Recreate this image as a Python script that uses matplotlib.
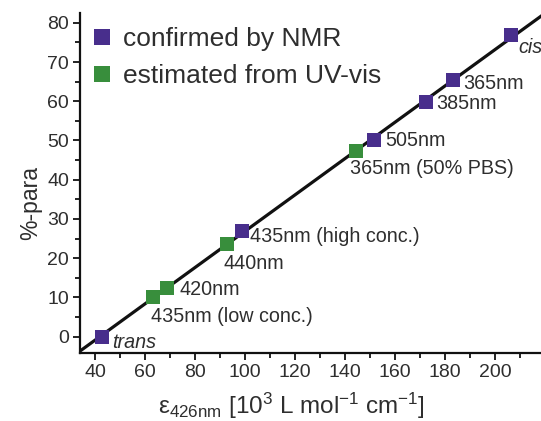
import numpy as np
import matplotlib
matplotlib.use("Agg")
import matplotlib.pyplot as plt

plt.rcParams["font.family"] = ["Liberation Sans", "DejaVu Sans"]
plt.rcParams["mathtext.fontset"] = "custom"
plt.rcParams["mathtext.rm"] = "Liberation Sans"
plt.rcParams["mathtext.it"] = "Liberation Sans:italic"

# points confirmed by NMR
nmr_x = [42.8, 98.6, 151.8, 172.6, 183.1, 206.4]
nmr_y = [0.0, 27.0, 50.1, 59.9, 65.3, 76.8]
nmr_labels = ["trans", "435nm (high conc.)", "505nm", "385nm", "365nm", "cis"]

# points estimated from UV-vis
uv_x = [63.2, 68.6, 92.8, 144.4]
uv_y = [10.0, 12.3, 23.7, 47.4]
uv_labels = ["435nm (low conc.)", "420nm", "440nm", "365nm (50% PBS)"]

# label offsets in pixels (right, down)
nmr_offsets = [(10, 6), (8, 6), (11, 0), (10, 2), (11, 3), (7, 12)]
uv_offsets = [(-2, 19), (13, 1), (-4, 20), (-6, 18)]
ITALIC = {"trans", "cis"}

PURPLE = "#482e8c"
GREEN = "#388e3c"
TXT = "#2e2e2e"

XLIM = (34, 218)
YLIM = (-4.2, 82.5)

fig = plt.figure(figsize=(5.41, 4.21), dpi=100)
ax = fig.add_axes([0.148, 0.1615, 0.85, 0.8075])

# linear fit through all points
all_x = np.array(nmr_x + uv_x)
all_y = np.array(nmr_y + uv_y)
m, b = np.polyfit(all_x, all_y, 1)
x_end = (YLIM[1] - b) / m
ax.plot([XLIM[0], x_end], [m * XLIM[0] + b, YLIM[1]], color="#111111",
        lw=2.3, solid_capstyle="butt", clip_on=False, zorder=2)

ax.plot(nmr_x, nmr_y, "s", color=PURPLE, ms=9.7, mew=0, zorder=3,
        label="confirmed by NMR")
ax.plot(uv_x, uv_y, "s", color=GREEN, ms=9.7, mew=0, zorder=3,
        label="estimated from UV-vis")

for xs, ys, labs, offs in [(nmr_x, nmr_y, nmr_labels, nmr_offsets),
                           (uv_x, uv_y, uv_labels, uv_offsets)]:
    for x, y, lab, (dx, dy) in zip(xs, ys, labs, offs):
        ax.annotate(lab, (x, y), xytext=(dx, -dy), textcoords="offset pixels",
                    ha="left", va="center", fontsize=14.2, color=TXT,
                    style="italic" if lab in ITALIC else "normal")

ax.set_xlim(*XLIM)
ax.set_ylim(*YLIM)
ax.set_xticks(np.arange(40, 201, 20))
ax.set_xticks(np.arange(40, 211, 10), minor=True)
ax.set_yticks(np.arange(0, 81, 10))
ax.set_yticks(np.arange(0, 81, 5), minor=True)

for side in ("top", "right"):
    ax.spines[side].set_visible(False)
for side in ("left", "bottom"):
    ax.spines[side].set_linewidth(1.6)
    ax.spines[side].set_color("#111111")

ax.tick_params(which="major", direction="out", length=5, width=1.3,
               color="#111111", labelsize=14, labelcolor=TXT, pad=3)
ax.tick_params(which="minor", direction="out", length=3.5, width=1.3,
               color="#111111")

ax.set_xlabel(r"ε$_{\mathregular{426nm}}$ [10$^{\mathregular{3}}$ L mol$^{\mathregular{-1}}$"
              r" cm$^{\mathregular{-1}}$]", fontsize=17.5, color=TXT)
ax.set_ylabel("%-para", fontsize=16.5, color=TXT)
ax.xaxis.set_label_coords(0.46, -0.11)
ax.yaxis.set_label_coords(-0.083, 0.44)

ax.legend(loc="upper left", bbox_to_anchor=(0.025, 0.959), frameon=False,
          fontsize=19, handlelength=0.8, handletextpad=0.4, borderpad=0,
          borderaxespad=0, markerscale=1.25, labelspacing=0.49,
          labelcolor=TXT)

fig.savefig("out.png", dpi=100, facecolor="white")
